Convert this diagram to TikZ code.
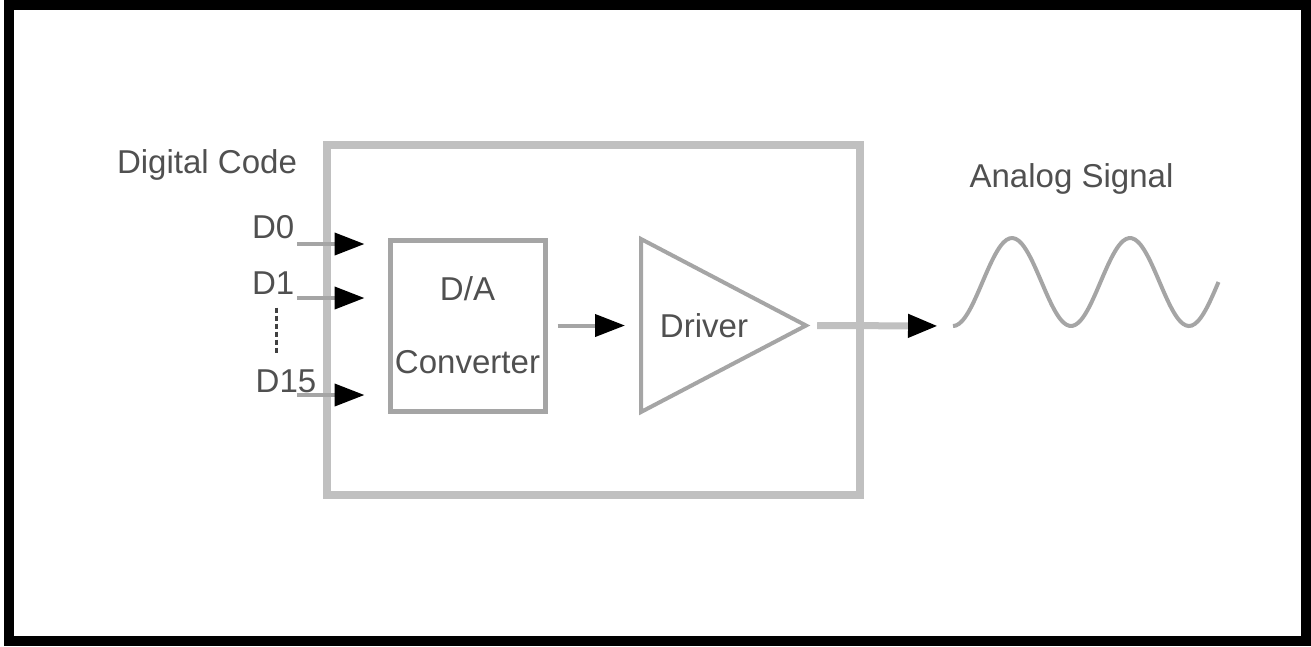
\documentclass[tikz,border=0pt]{standalone}
\usepackage{fontspec}
\setmainfont{Liberation Sans}
\usetikzlibrary{arrows.meta,positioning,shapes.geometric}
\definecolor{linegray}{RGB}{165,165,165}
\definecolor{framegray}{RGB}{192,192,192}
\definecolor{textgray}{RGB}{80,80,80}

\begin{document}
\begin{tikzpicture}[
    font=\fontsize{9.4}{11}\selectfont, text=textgray,
    block/.style={draw=linegray, line width=0.05cm, minimum width=1.55cm, minimum height=1.71cm, inner sep=0pt, align=center},
    amp/.style={draw=linegray, line width=0.04cm, isosceles triangle, isosceles triangle stretches, minimum width=1.73cm, minimum height=1.65cm, inner sep=0pt},
    sig/.style={draw=linegray, line width=0.04cm, -{Triangle[length=0.3cm,width=0.22cm,black]}},
    pin/.style={sig, shorten >=0.23cm},
    dots/.style={black!75, line width=0.03cm, dash pattern=on 0.05cm off 0.03cm, shorten <=0.13cm, shorten >=0.13cm}
  ]
  \useasboundingbox (0,0) rectangle (13.11,-6.46);
  \draw[line width=0.1cm] (0.09,-0.05) rectangle (13.06,-6.41);

  % chip with converter and driver
  \node[draw=framegray, line width=0.08cm, minimum width=5.33cm, minimum height=3.5cm] (chip) at (5.935,-3.2) {};
  \node[block] (dac) at (4.675,-3.255) {D/A\\[0.34cm]Converter};
  \node[amp, anchor=lower side] (drv) at (6.39,-3.255) {};
  \node (drvlabel) at ([xshift=0.65cm]drv.lower side) {Driver};
  \draw[sig, shorten <=0.1cm, shorten >=0.14cm] (dac.east) -- (drv.lower side);

  % digital inputs
  \node[anchor=base] (code) at (2.07,-1.73) {Digital Code};
  \foreach \name/\lbl/\lx/\ly/\py in {d0/D0/2.95/2.38/2.44, d1/D1/2.95/2.94/2.98, d15/D15/3.17/3.92/3.95} {
    \node[anchor=base east, inner sep=0pt] (\name) at (\lx,-\ly) {\lbl};
    \coordinate (\name pin) at (2.97,-\py);
    \draw[pin] (\name pin) -- (\name pin -| dac.west);
  }
  \draw[dots] ([xshift=0.03cm]d1.south) -- ([xshift=0.03cm]d1.south |- d15.north);

  % analog output
  \node[anchor=base] (analog) at (10.715,-1.87) {Analog Signal};
  \coordinate (wave) at (9.53,-3.26);
  \draw[sig, draw=framegray, line width=0.07cm, shorten <=0.06cm, shorten >=0.15cm] (drv.apex) -- (wave);
  \draw[linegray, line width=0.04cm, shift={(wave)}] plot[domain=0:2.655, samples=90, smooth] (\x, {0.44-0.44*cos(360*\x/1.18)});
\end{tikzpicture}
\end{document}
